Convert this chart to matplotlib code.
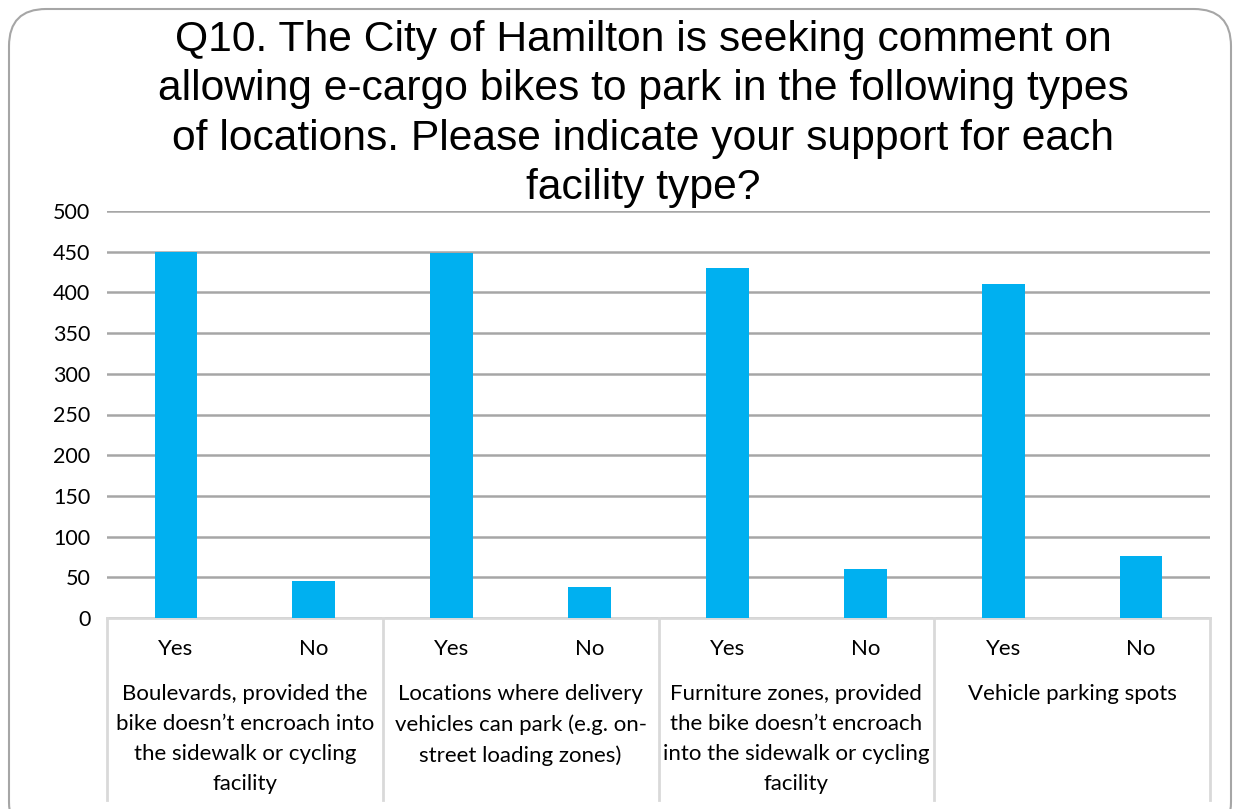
import numpy as np
import matplotlib.pyplot as plt
from matplotlib.patches import FancyBboxPatch
from matplotlib.transforms import blended_transform_factory

# data
groups = ["Boulevards, provided the\nbike doesn\u2019t encroach into\nthe sidewalk or cycling\nfacility",
          "Locations where delivery\nvehicles can park (e.g. on-\nstreet loading zones)",
          "Furniture zones, provided\nthe bike doesn\u2019t encroach\ninto the sidewalk or cycling\nfacility",
          "Vehicle parking spots"]
answers = ["Yes", "No"]
counts = [450, 46, 449, 38, 430, 60, 410, 76]
title = ("Q10. The City of Hamilton is seeking comment on\n"
         "allowing e-cargo bikes to park in the following types\n"
         "of locations. Please indicate your support for each\n"
         "facility type?")

W, H = 1238, 809
fig = plt.figure(figsize=(W / 100, H / 100), dpi=100)

# rounded frame round the whole chart
frame = FancyBboxPatch((9 / W, -30 / H), 1222 / W, 830 / H,
                       boxstyle="round,pad=0,rounding_size=0.03",
                       transform=fig.transFigure, facecolor="white",
                       edgecolor="#a6a6a6", linewidth=1.5, zorder=-1,
                       mutation_aspect=W / H)
fig.patches.append(frame)

ax = fig.add_axes([107 / W, (H - 618) / H, 1103 / W, 407 / H])
ax.set_facecolor("none")

x = np.arange(len(counts))
ax.bar(x, counts, width=0.31, color="#00b0f0", zorder=3)
ax.set_xlim(-0.5, len(counts) - 0.5)
ax.set_ylim(0, 500)
ax.set_yticks(np.arange(0, 501, 50))
ax.yaxis.grid(True, color="#a6a6a6", linewidth=1.8)
ax.set_axisbelow(True)
for s in ["top", "right", "left"]:
    ax.spines[s].set_visible(False)
ax.spines["bottom"].set_color("#d9d9d9")
ax.spines["bottom"].set_linewidth(2)
ax.tick_params(axis="y", length=0, pad=12, labelsize=15.5, labelfontfamily="Lato")
ax.tick_params(axis="x", length=0)
ax.set_xticks([])

trans = blended_transform_factory(ax.transData, ax.transAxes)
for i in range(len(counts)):
    ax.text(i, -31 / 407, answers[i % 2], transform=trans, ha="center", va="center",
            fontsize=16, family="Lato")
for g, label in enumerate(groups):
    ax.text(2 * g + 0.5, -66 / 407, label, transform=trans, ha="center", va="top",
            fontsize=16, family="Lato", linespacing=1.62)
for b in range(len(groups) + 1):
    ax.plot([2 * b - 0.5, 2 * b - 0.5], [0, -182 / 407], transform=trans,
            color="#d9d9d9", linewidth=2, clip_on=False)

fig.text(643 / W, 1 - 20 / H, title, ha="center", va="top",
         fontsize=30.7, family="Liberation Sans", linespacing=1.3)

fig.savefig("out.png", dpi=100)
